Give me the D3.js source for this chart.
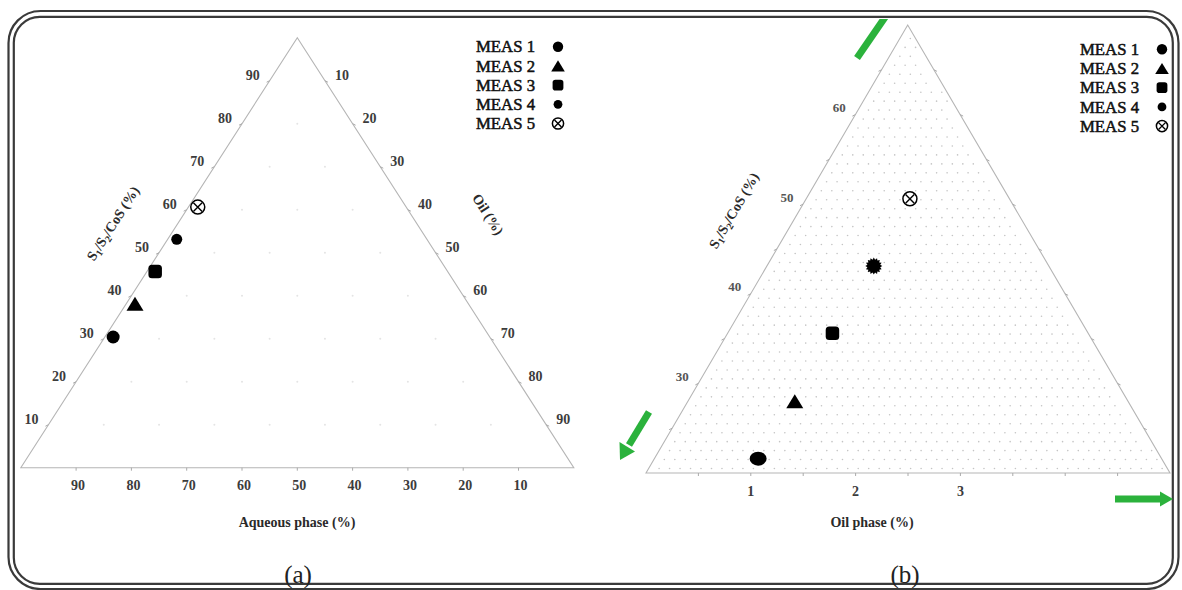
<!DOCTYPE html>
<html><head><meta charset="utf-8">
<script src="https://cdn.jsdelivr.net/npm/d3@7"></script>
<style>
html,body{margin:0;padding:0;background:#fff;}
svg{display:block;}
text{font-family:"Liberation Serif","Times New Roman",serif;}
</style></head>
<body>
<svg id="chart" width="1182" height="590"></svg>
<script>
// ---------------- data ----------------
const categories = ["MEAS 1", "MEAS 2", "MEAS 3", "MEAS 4", "MEAS 5"];
// panel (a): full ternary, S1/S2/CoS % and Oil %
const aSurf = [30.4, 38.1, 45.6, 53.1, 60.6];
const aOil  = [1.5, 1.6, 1.5, 1.65, 1.7];
// panel (b): zoomed region
const bSurf = [21.6, 28.0, 35.6, 43.1, 50.6];
const bOil  = [0.99, 1.02, 1.0, 1.02, 0.99];
// tick labels
const aTicks = [10, 20, 30, 40, 50, 60, 70, 80, 90];
const bSurfTicks = [30, 40, 50, 60];
const bSurfMinor = [25, 30, 35, 40, 45, 50, 55, 60, 65];
const bOilTicks = [1, 2, 3];
const bOilMinor = [0.5, 1, 1.5, 2, 2.5, 3, 3.5, 4, 4.5];

// ---------------- styles ----------------
const shapesA = ["circle", "triangle", "square", "dot", "otimes"];
const shapesB = ["ellipse", "triangle", "square", "spiky", "otimes"];
const green = "#2bb23c";
const edgeCol = "#b5b5b5";
const tickLabCol = "#3c3c3c";

const svg = d3.select("#chart");

// ---------------- frame ----------------
svg.append("rect").attr("x", 8.5).attr("y", 11).attr("width", 1170).attr("height", 578)
  .attr("rx", 32).attr("fill", "none").attr("stroke", "#3a3a3a").attr("stroke-width", 2.2);
svg.append("rect").attr("x", 13.8).attr("y", 16.8).attr("width", 1159).attr("height", 567)
  .attr("rx", 26).attr("fill", "none").attr("stroke", "#3a3a3a").attr("stroke-width", 2.2);

// ---------------- marker drawing ----------------
function drawMarker(g, shape, x, y, big) {
  const k = big ? 1 : 0.8;
  if (shape === "circle") {
    g.append("circle").attr("cx", x).attr("cy", y).attr("r", 6.5 * k).attr("fill", "#000");
  } else if (shape === "ellipse") {
    g.append("ellipse").attr("cx", x).attr("cy", y).attr("rx", 8.5 * k).attr("ry", 7 * k).attr("fill", "#000");
  } else if (shape === "triangle") {
    const w = 17 * k, h = 14 * k;
    g.append("path").attr("d", `M${x - w / 2},${y + h / 2}L${x + w / 2},${y + h / 2}L${x},${y - h / 2}Z`).attr("fill", "#000");
  } else if (shape === "square") {
    const s = 13.5 * k;
    g.append("rect").attr("x", x - s / 2).attr("y", y - s / 2).attr("width", s).attr("height", s)
      .attr("rx", 3.5 * k).attr("fill", "#000");
  } else if (shape === "dot") {
    g.append("circle").attr("cx", x).attr("cy", y).attr("r", 5.5 * k).attr("fill", "#000");
  } else if (shape === "spiky") {
    const n = 16, r1 = 8.5 * k, r0 = 6.5 * k;
    const pts = d3.range(n * 2).map(i => [i * Math.PI / n, i % 2 ? r0 : r1]);
    g.append("path").attr("transform", `translate(${x},${y})`)
      .attr("d", d3.lineRadial().curve(d3.curveLinearClosed)(pts)).attr("fill", "#000");
  } else if (shape === "otimes") {
    const r = 7 * k, d = r * 0.62;
    const gg = g.append("g").attr("transform", `translate(${x},${y})`);
    gg.append("circle").attr("r", r).attr("fill", "#fff").attr("stroke", "#000").attr("stroke-width", 1.5);
    gg.append("path").attr("d", `M${-d},${-d}L${d},${d}M${-d},${d}L${d},${-d}`).attr("stroke", "#000").attr("stroke-width", 1.4);
  }
}

function subLabel(g, x, y, angle, size) {
  const t = g.append("text").attr("transform", `translate(${x},${y}) rotate(${angle})`)
    .attr("text-anchor", "middle").attr("font-size", size).attr("font-weight", "bold").attr("fill", "#2a2a2a");
  t.append("tspan").text("S");
  t.append("tspan").attr("dy", 3).attr("font-size", size * 0.7).text("1");
  t.append("tspan").attr("dy", -3).text("/S");
  t.append("tspan").attr("dy", 3).attr("font-size", size * 0.7).text("2");
  t.append("tspan").attr("dy", -3).text("/CoS (%)");
}

function legend(g, x0, y0, dy, shapes) {
  categories.forEach((c, i) => {
    g.append("text").attr("x", x0).attr("y", y0 + i * dy).attr("dy", "0.35em")
      .attr("font-size", 16).attr("fill", "#111").attr("stroke", "#111").attr("stroke-width", 0.5)
      .attr("textLength", 59).attr("lengthAdjust", "spacingAndGlyphs").text(c);
    drawMarker(g, shapes[i], x0 + 82, y0 + i * dy, false);
  });
}

// ================= Panel (a) =================
{
  const g = svg.append("g");
  const yS = d3.scaleLinear().domain([0, 100]).range([467.7, 37.7]);   // S fraction -> y
  const xO = d3.scaleLinear().domain([0, 100]).range([20.8, 573.8]);   // oil along bottom
  const shear = d3.scaleLinear().domain([0, 100]).range([0, 276.5]);   // S shift
  const P = (s, o) => [xO(o) + shear(s), yS(s)];

  const gridPts = [];
  aTicks.forEach(s => aTicks.forEach(o => { if (s + o < 100) gridPts.push(P(s, o)); }));
  g.selectAll(".gd").data(gridPts).join("circle").attr("cx", d => d[0]).attr("cy", d => d[1])
    .attr("r", 1).attr("fill", "#e4e4e4");

  const verts = [P(0, 0), P(100, 0), P(0, 100)];
  g.append("path").attr("d", "M" + verts.join("L") + "Z").attr("fill", "none")
    .attr("stroke", edgeCol).attr("stroke-width", 1.1);

  aTicks.forEach(v => {
    const l = P(v, 0);
    const r = P(100 - v, v);
    const b = P(0, 100 - v);
    g.append("line").attr("x1", l[0]).attr("y1", l[1]).attr("x2", l[0] - 3).attr("y2", l[1] + 1.5).attr("stroke", "#aaa");
    g.append("line").attr("x1", r[0]).attr("y1", r[1]).attr("x2", r[0] + 3).attr("y2", r[1] + 1.5).attr("stroke", "#aaa");
    g.append("line").attr("x1", b[0]).attr("y1", b[1]).attr("x2", b[0]).attr("y2", b[1] + 3).attr("stroke", "#aaa");
    const tl = (x, y, t) => g.append("text").attr("x", x).attr("y", y).attr("dy", "0.35em")
      .attr("text-anchor", "middle").attr("font-size", 14).attr("font-weight", "bold").attr("fill", tickLabCol).text(t);
    tl(l[0] - 17, l[1] - 6, v);
    tl(r[0] + 17, r[1] - 6, v);
    tl(b[0] + 2, 485, v);
  });

  subLabel(g, 117, 226, -57.3, 14);
  g.append("text").attr("transform", "translate(484,217) rotate(57.3)").attr("text-anchor", "middle")
    .attr("font-size", 14).attr("font-weight", "bold").attr("fill", "#2a2a2a").text("Oil (%)");
  g.append("text").attr("x", 297).attr("y", 522).attr("dy", "0.35em").attr("text-anchor", "middle")
    .attr("font-size", 14).attr("font-weight", "bold").attr("fill", "#2a2a2a").text("Aqueous phase (%)");
  g.append("text").attr("x", 298).attr("y", 583).attr("text-anchor", "middle")
    .attr("font-size", 25).attr("fill", "#222").text("(a)");

  categories.forEach((c, i) => {
    const p = P(aSurf[i], aOil[i]);
    drawMarker(g, shapesA[i], p[0], p[1], true);
  });
  legend(g, 476, 46.7, 19.2, shapesA);
}

// ================= Panel (b) =================
{
  const g = svg.append("g");
  const yS = d3.scaleLinear().domain([20, 70]).range([473, 25]);
  const xO = d3.scaleLinear().domain([0, 5]).range([646, 1170]);
  const shear = d3.scaleLinear().domain([20, 70]).range([0, 261.7]);
  const P = (s, o) => [xO(o) + shear(s), yS(s)];
  const oilMax = s => 5 * (1 - (s - 20) / 50);

  const dots = [];
  for (let s = 20.5; s < 70; s += 1) {
    const om = oilMax(s);
    for (let o = 0.1; o < om - 0.05; o += 0.1) dots.push(P(s, o));
  }
  g.selectAll(".bd").data(dots).join("circle").attr("cx", d => d[0]).attr("cy", d => d[1])
    .attr("r", 0.8).attr("fill", "#c4c4c4");

  const verts = [P(20, 0), P(70, 0), P(20, 5)];
  g.append("path").attr("d", "M" + verts.join("L") + "Z").attr("fill", "none")
    .attr("stroke", edgeCol).attr("stroke-width", 1.1);

  bSurfMinor.forEach(s => {
    const l = P(s, 0), r = P(s, oilMax(s));
    g.append("line").attr("x1", l[0]).attr("y1", l[1]).attr("x2", l[0] - 3).attr("y2", l[1] + 1.5).attr("stroke", "#aaa");
    g.append("line").attr("x1", r[0]).attr("y1", r[1]).attr("x2", r[0] + 3).attr("y2", r[1] + 1.5).attr("stroke", "#aaa");
  });
  bOilMinor.forEach(o => {
    const b = P(20, o);
    g.append("line").attr("x1", b[0]).attr("y1", b[1]).attr("x2", b[0]).attr("y2", b[1] + 3).attr("stroke", "#aaa");
  });
  bSurfTicks.forEach(s => {
    const l = P(s, 0);
    g.append("text").attr("x", l[0] - 16).attr("y", l[1] - 7).attr("dy", "0.35em").attr("text-anchor", "middle")
      .attr("font-size", 13).attr("font-weight", "bold").attr("fill", "#555").text(s);
  });
  bOilTicks.forEach(o => {
    const b = P(20, o);
    g.append("text").attr("x", b[0]).attr("y", 491).attr("dy", "0.35em").attr("text-anchor", "middle")
      .attr("font-size", 14).attr("font-weight", "bold").attr("fill", tickLabCol).text(o);
  });

  subLabel(g, 738, 213, -59.7, 14);
  g.append("text").attr("x", 872).attr("y", 522).attr("dy", "0.35em").attr("text-anchor", "middle")
    .attr("font-size", 14).attr("font-weight", "bold").attr("fill", "#2a2a2a").text("Oil phase (%)");
  g.append("text").attr("x", 905).attr("y", 583).attr("text-anchor", "middle")
    .attr("font-size", 25).attr("fill", "#222").text("(b)");

  categories.forEach((c, i) => {
    const p = P(bSurf[i], bOil[i]);
    drawMarker(g, shapesB[i], p[0], p[1], true);
  });
  legend(g, 1080, 49.3, 19.2, shapesA);

  // green arrows
  const defs = svg.append("defs");
  defs.append("clipPath").attr("id", "topclip").append("rect").attr("x", 0).attr("y", 19).attr("width", 1182).attr("height", 600);
  g.append("line").attr("x1", 857).attr("y1", 58).attr("x2", 890).attr("y2", 10)
    .attr("stroke", green).attr("stroke-width", 7).attr("clip-path", "url(#topclip)");
  g.append("line").attr("x1", 649).attr("y1", 412).attr("x2", 629).attr("y2", 445)
    .attr("stroke", green).attr("stroke-width", 7);
  g.append("path").attr("d", "M620,460 L619.5,442 L635,451.5 Z").attr("fill", green);
  g.append("line").attr("x1", 1115).attr("y1", 499).attr("x2", 1161).attr("y2", 499)
    .attr("stroke", green).attr("stroke-width", 7);
  g.append("path").attr("d", "M1173,499 L1160,491.5 L1160,506.5 Z").attr("fill", green);
}
</script>
</body></html>
